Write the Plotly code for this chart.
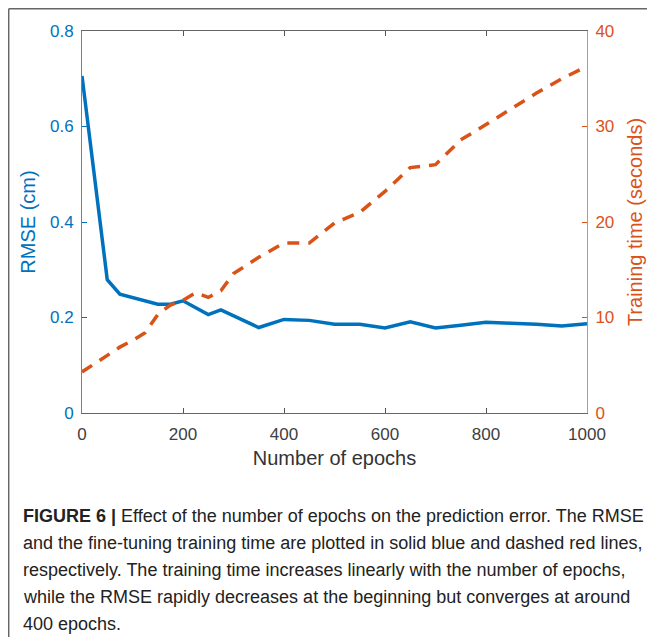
import plotly.graph_objects as go

# RMSE (left axis)
rmse_epochs = [0, 50, 75, 150, 175, 200, 250, 275, 350, 400, 450, 500, 550, 600, 650, 700, 750, 800, 850, 900, 950, 1000]
rmse_values = [0.706, 0.279, 0.249, 0.228, 0.228, 0.235, 0.206, 0.216, 0.179, 0.196, 0.194, 0.186, 0.186, 0.178, 0.191, 0.178, 0.184, 0.190, 0.188, 0.186, 0.182, 0.187]

# Training time (right axis)
time_epochs = [0, 50, 75, 100, 125, 150, 175, 200, 225, 250, 275, 300, 350, 400, 450, 500, 550, 600, 650, 700, 750, 800, 850, 900, 950, 1000]
time_values = [4.3, 6.1, 6.9, 7.6, 8.4, 10.3, 11.3, 11.8, 12.6, 12.1, 12.8, 14.6, 16.3, 17.8, 17.8, 19.9, 21.0, 23.2, 25.7, 26.0, 28.6, 30.2, 31.9, 33.5, 35.0, 36.3]

x_ticks = [0, 200, 400, 600, 800, 1000]
left_ticks = [0, 0.2, 0.4, 0.6, 0.8]
left_labels = ["0", "0.2", "0.4", "0.6", "0.8"]
right_ticks = [0, 10, 20, 30, 40]

caption_lines = [
    "<b>FIGURE 6 |</b> Effect of the number of epochs on the prediction error. The RMSE",
    "and the fine-tuning training time are plotted in solid blue and dashed red lines,",
    "respectively. The training time increases linearly with the number of epochs,",
    "while the RMSE rapidly decreases at the beginning but converges at around",
    "400 epochs.",
]

BLUE = "#0072BD"
ORANGE = "#D95319"
FONT = "Liberation Sans, Arial, Helvetica, sans-serif"

# page has an 8px body margin; figure drawn at page offset (8, 8)
OFF = 8
W, H = 655 - OFF, 637 - OFF
L, T = 82 - OFF, 31 - OFF
PW, PH = 505, 382
R = W - L - PW
B = H - T - PH


def px(x):
    return (x - OFF - L) / PW


def py(y):
    return (H - B - (y - OFF)) / PH


fig = go.Figure()
fig.add_trace(go.Scatter(x=time_epochs, y=time_values, mode="lines", yaxis="y2",
                         line=dict(color=ORANGE, width=3.5, dash="12px,9px"), showlegend=False))
fig.add_trace(go.Scatter(x=rmse_epochs, y=rmse_values, mode="lines", yaxis="y",
                         line=dict(color=BLUE, width=3.5), showlegend=False))

fig.update_layout(
    width=W, height=H,
    margin=dict(l=L, r=R, t=T, b=B, pad=0),
    paper_bgcolor="white", plot_bgcolor="white",
    font=dict(family=FONT, size=17, color="#404040"),
    xaxis=dict(range=[0, 1000], tickvals=x_ticks, ticks="inside", ticklen=5, tickcolor="#555",
               showline=True, linecolor="#666", linewidth=1, mirror="ticks", showgrid=False,
               zeroline=False, tickfont=dict(size=17, color="#404040"), ticklabelstandoff=6,
               title=dict(text="Number of epochs", font=dict(size=20, color="#333"), standoff=7)),
    yaxis=dict(range=[0, 0.8], tickvals=left_ticks, ticktext=left_labels, ticks="inside", ticklen=5,
               tickcolor=BLUE, showline=True, linecolor="#3f90d0", linewidth=1, showgrid=False,
               zeroline=False, tickfont=dict(size=17, color=BLUE), ticklabelstandoff=4,
               title=dict(text="RMSE (cm)", font=dict(size=20, color=BLUE), standoff=8)),
    yaxis2=dict(range=[0, 40], tickvals=right_ticks, ticks="inside", ticklen=5, tickcolor=ORANGE,
                overlaying="y", side="right", showline=True, linecolor="#e58a60", linewidth=1,
                showgrid=False, zeroline=False, tickfont=dict(size=17, color=ORANGE), ticklabelstandoff=4,
                title=dict(text="Training time (seconds)", font=dict(size=20, color=ORANGE), standoff=14)),
)

# frame lines (top and left border of the figure panel)
fig.add_shape(type="line", xref="paper", yref="paper", x0=px(8.7), x1=px(680), y0=py(8.7), y1=py(8.7),
              line=dict(color="#666", width=1.5))
fig.add_shape(type="line", xref="paper", yref="paper", x0=px(8.7), x1=px(8.7), y0=py(8.7), y1=py(680),
              line=dict(color="#666", width=1.5))

caption_y = [516, 543, 570, 597, 624]
for txt, yy in zip(caption_lines, caption_y):
    fig.add_annotation(text=txt, xref="paper", yref="paper", x=px(21), y=py(yy),
                       xanchor="left", yanchor="middle", showarrow=False,
                       font=dict(family=FONT, size=18, color="#222"))

fig.write_html("out.html")
